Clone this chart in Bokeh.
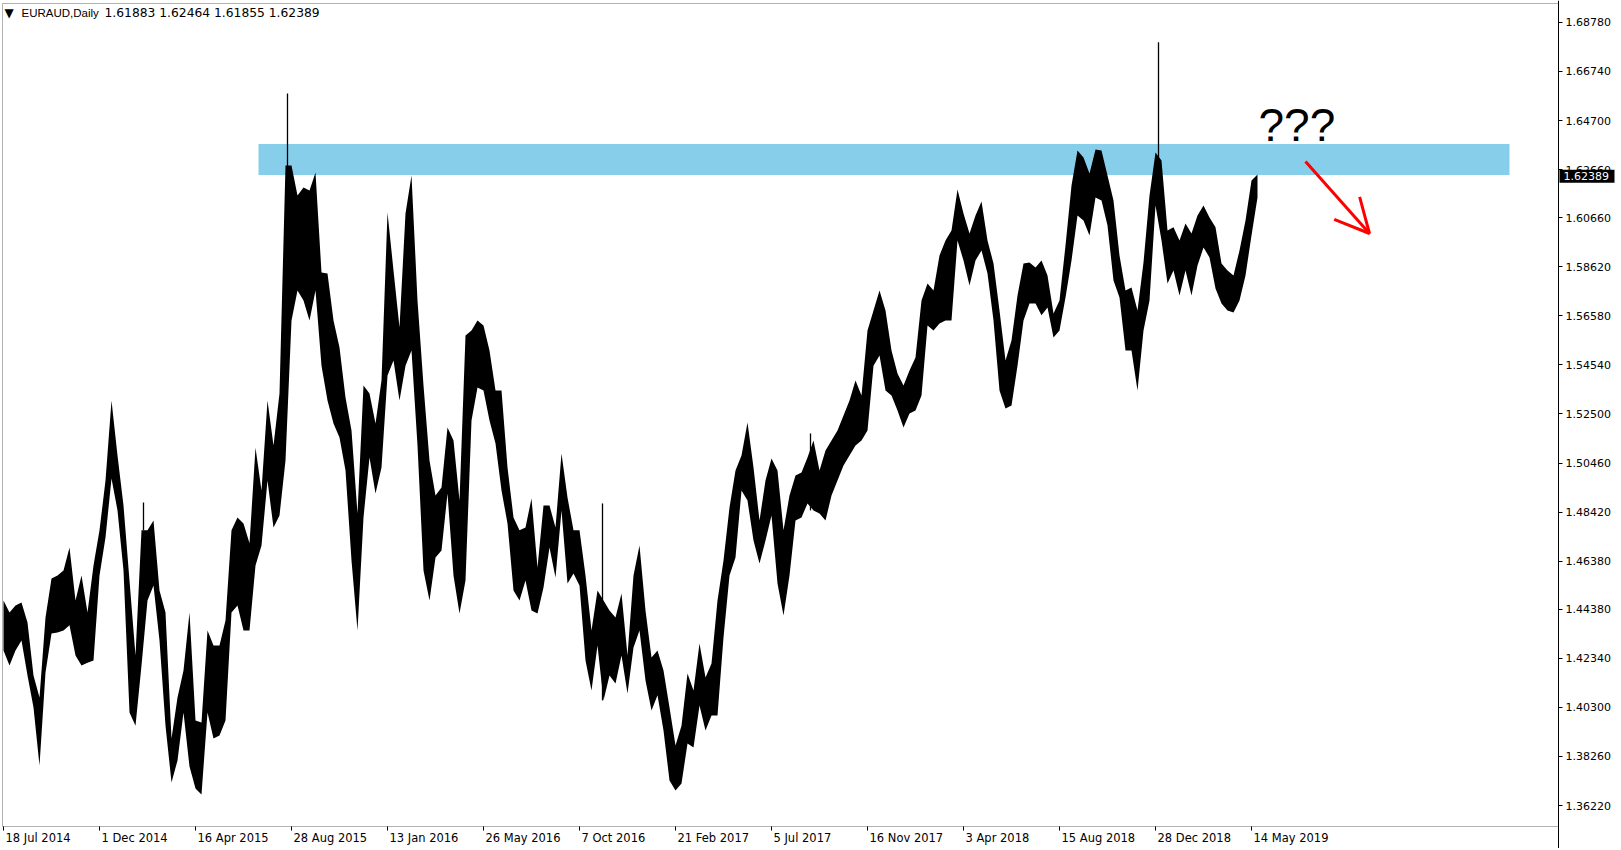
from bokeh.plotting import figure
from bokeh.models import (Range1d, FixedTicker, NumeralTickFormatter, BoxAnnotation,
                          Label, Arrow, OpenHead)
from bokeh.core.properties import value
from bokeh.embed import file_html
from bokeh.resources import INLINE

# ---------------- data ----------------
symbol = "EURAUD,Daily"
last_ohlc = [1.61883, 1.62464, 1.61855, 1.62389]

bars_per_block = 6  # daily bars summarised per block (high / low envelope)
block_high = [
    1.4474, 1.4425, 1.4454, 1.4466, 1.4383, 1.4163, 1.4071, 1.4404, 1.4566, 1.4578,
    1.4599, 1.4695, 1.4474, 1.4578, 1.4425, 1.4620, 1.4766, 1.4973, 1.5306, 1.5077,
    1.4869, 1.4558, 1.4246, 1.4766, 1.4766, 1.4807, 1.4516, 1.4425, 1.3901, 1.4071,
    1.4183, 1.4425, 1.3975, 1.3967, 1.4350, 1.4287, 1.4287, 1.4391, 1.4766, 1.4820,
    1.4795, 1.4712, 1.5110, 1.4932, 1.5306, 1.5119, 1.5335, 1.6283, 1.6283, 1.6158,
    1.6192, 1.6179, 1.6254, 1.5838, 1.5834, 1.5639, 1.5526, 1.5318, 1.5181, 1.4836,
    1.5368, 1.5335, 1.5210, 1.5389, 1.6088, 1.5847, 1.5610, 1.6084, 1.6242, 1.5722,
    1.5368, 1.5057, 1.4911, 1.4944, 1.5194, 1.5140, 1.4890, 1.5576, 1.5597, 1.5639,
    1.5618, 1.5514, 1.5348, 1.5348, 1.5027, 1.4820, 1.4766, 1.4778, 1.4899, 1.4612,
    1.4869, 1.4869, 1.4778, 1.5086, 1.4903, 1.4766, 1.4766, 1.4578, 1.4350, 1.4516,
    1.4474, 1.4433, 1.4404, 1.4503, 1.4246, 1.4578, 1.4703, 1.4433, 1.4237, 1.4267,
    1.4183, 1.4030, 1.3872, 1.3954, 1.4171, 1.4100, 1.4296, 1.4154, 1.4212, 1.4474,
    1.4641, 1.4861, 1.5015, 1.5077, 1.5215, 1.5027, 1.4807, 1.4973, 1.5065, 1.5015,
    1.4766, 1.4911, 1.4994, 1.5007, 1.5069, 1.5140, 1.5015, 1.5098, 1.5140, 1.5181,
    1.5244, 1.5306, 1.5389, 1.5327, 1.5597, 1.5680, 1.5763, 1.5680, 1.5514, 1.5418,
    1.5368, 1.5431, 1.5485, 1.5722, 1.5792, 1.5763, 1.5909, 1.5971, 1.6013, 1.6183,
    1.6084, 1.6000, 1.6075, 1.6133, 1.5971, 1.5876, 1.5680, 1.5472, 1.5555, 1.5743,
    1.5876, 1.5880, 1.5859, 1.5888, 1.5826, 1.5668, 1.5722, 1.5950, 1.6200, 1.6346,
    1.6316, 1.6250, 1.6350, 1.6346, 1.6242, 1.6138, 1.5909, 1.5763, 1.5776, 1.5680,
    1.5880, 1.6158, 1.6337, 1.6304, 1.6013, 1.6026, 1.5971, 1.6042, 1.6000, 1.6075,
    1.6117, 1.6067, 1.6026, 1.5876, 1.5847, 1.5826, 1.5930, 1.6054, 1.6221, 1.6246,
]
block_low = [
    1.4267, 1.4204, 1.4267, 1.4308, 1.4163, 1.4030, 1.3788, 1.4175, 1.4337, 1.4341,
    1.4350, 1.4371, 1.4246, 1.4204, 1.4216, 1.4225, 1.4578, 1.4736, 1.4982, 1.4849,
    1.4599, 1.4009, 1.3954, 1.4204, 1.4474, 1.4537, 1.4308, 1.3954, 1.3718, 1.3809,
    1.4009, 1.3784, 1.3693, 1.3668, 1.4009, 1.3901, 1.3913, 1.3975, 1.4425, 1.4454,
    1.4350, 1.4350, 1.4620, 1.4703, 1.4973, 1.4778, 1.4828, 1.5057, 1.5639, 1.5763,
    1.5722, 1.5639, 1.5763, 1.5451, 1.5306, 1.5210, 1.5152, 1.5015, 1.4641, 1.4350,
    1.4820, 1.5069, 1.4919, 1.5027, 1.5410, 1.5472, 1.5306, 1.5451, 1.5514, 1.5119,
    1.4599, 1.4474, 1.4653, 1.4682, 1.4919, 1.4578, 1.4420, 1.4558, 1.5223, 1.5360,
    1.5348, 1.5223, 1.5127, 1.4932, 1.4795, 1.4516, 1.4474, 1.4558, 1.4433, 1.4420,
    1.4528, 1.4695, 1.4570, 1.4849, 1.4545, 1.4587, 1.4537, 1.4225, 1.4100, 1.4287,
    1.4059, 1.4163, 1.4129, 1.4246, 1.4088, 1.4279, 1.4350, 1.4142, 1.4017, 1.4080,
    1.3934, 1.3726, 1.3684, 1.3713, 1.3880, 1.3863, 1.4038, 1.3934, 1.3996, 1.3996,
    1.4321, 1.4578, 1.4653, 1.4932, 1.4890, 1.4724, 1.4628, 1.4724, 1.4828, 1.4545,
    1.4412, 1.4578, 1.4807, 1.4820, 1.4878, 1.4849, 1.4836, 1.4807, 1.4911, 1.4973,
    1.5036, 1.5077, 1.5119, 1.5140, 1.5181, 1.5451, 1.5493, 1.5348, 1.5327, 1.5264,
    1.5194, 1.5252, 1.5264, 1.5327, 1.5618, 1.5597, 1.5626, 1.5639, 1.5639, 1.5971,
    1.5888, 1.5784, 1.5888, 1.5930, 1.5834, 1.5639, 1.5348, 1.5273, 1.5285, 1.5451,
    1.5639, 1.5709, 1.5709, 1.5660, 1.5693, 1.5568, 1.5597, 1.5734, 1.5888, 1.6075,
    1.6054, 1.5992, 1.6150, 1.6138, 1.6034, 1.5805, 1.5734, 1.5514, 1.5514, 1.5348,
    1.5597, 1.5722, 1.6117, 1.5971, 1.5792, 1.5847, 1.5743, 1.5847, 1.5743, 1.5867,
    1.5942, 1.5901, 1.5772, 1.5709, 1.5680, 1.5672, 1.5722, 1.5826, 1.5992, 1.6150,
]

# single-day wicks that stand out from the envelope
spike_bar = [143, 287, 602, 810, 1158]
spike_high = [1.4882, 1.6583, 1.4878, 1.5169, 1.6796]
spike_low = [1.4766, 1.5580, 1.4059, 1.4849, 1.6250]

# resistance zone
zone_top = 1.63725
zone_bottom = 1.62436
zone_first_bar = 258
zone_last_bar = 1509

date_tick_bars = [3, 99, 195, 291, 387, 483, 579, 675, 771, 867, 963, 1059, 1155, 1251]
date_labels = ["18 Jul 2014", "1 Dec 2014", "16 Apr 2015", "28 Aug 2015", "13 Jan 2016",
               "26 May 2016", "7 Oct 2016", "21 Feb 2017", "5 Jul 2017", "16 Nov 2017",
               "3 Apr 2018", "15 Aug 2018", "28 Dec 2018", "14 May 2019"]
price_ticks = [1.3622, 1.3826, 1.4030, 1.4234, 1.4438, 1.4638, 1.4842, 1.5046, 1.5250,
               1.5454, 1.5658, 1.5862, 1.6066, 1.6266, 1.6470, 1.6674, 1.6878]

# ---------------- layout constants (pixels -> data) ----------------
W, H = 1618, 848
PX_PER_PRICE = 2405.0
Y_TOP = 1.69692                     # price at the top edge of the canvas
def py(pix):                         # canvas pixel row -> price coordinate
    return Y_TOP - pix / PX_PER_PRICE

PLOT_LEFT, PLOT_RIGHT = 2, 1558      # bar-index coordinates of the chart frame
PLOT_TOP, PLOT_BOTTOM = py(3), py(826)

FONT = "DejaVu Sans"
block_x = [bars_per_block * k + bars_per_block / 2 for k in range(len(block_high))]

p = figure(width=W, height=H, x_range=Range1d(0, W), y_range=Range1d(py(H), Y_TOP),
           y_axis_location="right", toolbar_location=None, output_backend="svg",
           min_border=0, min_border_left=0, min_border_right=0, min_border_top=0,
           min_border_bottom=0, background_fill_color="white", border_fill_color="white",
           outline_line_color=None)
p.xgrid.visible = False
p.ygrid.visible = False

# resistance zone (below the price bars)
p.add_layout(BoxAnnotation(left=zone_first_bar, right=zone_last_bar, bottom=zone_bottom,
                           top=zone_top, fill_color="#87CEEB", fill_alpha=1.0,
                           line_alpha=0, level="underlay"))

# price bars
p.varea(x=block_x, y1=block_low, y2=block_high, fill_color="black")
p.segment(x0=spike_bar, y0=spike_low, x1=spike_bar, y1=spike_high,
          line_color="black", line_width=1.3)

# chart frame
p.add_layout(BoxAnnotation(left=PLOT_LEFT, right=PLOT_RIGHT, bottom=PLOT_BOTTOM, top=PLOT_TOP,
                           fill_alpha=0, line_color="black", line_width=1, level="underlay"))

# x axis: tick marks on the frame bottom, labels left-aligned at the ticks
xa = p.xaxis[0]
xa.fixed_location = PLOT_BOTTOM
xa.ticker = FixedTicker(ticks=date_tick_bars)
xa.major_label_text_font_size = "0px"
xa.major_label_text_alpha = 0
xa.major_tick_out = 4
xa.major_tick_in = 0
xa.minor_tick_out = 0
xa.minor_tick_in = 0
xa.axis_line_color = None
xa.major_tick_line_color = "black"
p.text(x=date_tick_bars, y=[py(837)] * len(date_tick_bars), text=date_labels,
       x_offset=2, text_align="left", text_baseline="middle", text_font=value(FONT),
       text_font_size="11.5px", text_color="black")

# y axis on the right edge of the frame
ya = p.yaxis[0]
ya.fixed_location = PLOT_RIGHT
ya.ticker = FixedTicker(ticks=price_ticks)
ya.formatter = NumeralTickFormatter(format="0.00000")
ya.major_label_text_font = FONT
ya.major_label_text_font_size = "11px"
ya.major_label_text_color = "black"
ya.major_tick_out = 4
ya.major_tick_in = 0
ya.minor_tick_out = 0
ya.minor_tick_in = 0
ya.major_label_standoff = 3
ya.axis_line_color = "black"
ya.major_tick_line_color = "black"

# header: marker, symbol/timeframe, last bar O H L C
p.add_layout(Label(x=4, y=py(12), text="\u25BC", text_font=FONT, text_font_size="12px",
                   text_color="black", text_align="left", text_baseline="middle"))
p.add_layout(Label(x=21, y=py(12), text=symbol, text_font="Liberation Sans",
                   text_font_size="11.5px", text_color="black", text_align="left",
                   text_baseline="middle"))
p.add_layout(Label(x=104, y=py(12), text=" ".join(f"{v:.5f}" for v in last_ohlc),
                   text_font=FONT, text_font_size="12.3px", text_color="black",
                   text_align="left", text_baseline="middle"))

# current price tag
tag_half = 6.5 / PX_PER_PRICE
p.add_layout(BoxAnnotation(left=PLOT_RIGHT + 1, right=PLOT_RIGHT + 56,
                           bottom=last_ohlc[3] - tag_half, top=last_ohlc[3] + tag_half,
                           fill_color="black", fill_alpha=1.0, line_alpha=0))
p.add_layout(Label(x=PLOT_RIGHT + 5, y=last_ohlc[3], text=f"{last_ohlc[3]:.5f}", text_font=FONT,
                   text_font_size="11px", text_color="white",
                   text_align="left", text_baseline="middle"))

# annotation: question marks and red arrow
p.add_layout(Label(x=1258, y=py(124.5), text="???", text_font="Liberation Sans",
                   text_font_size="46px", text_color="black", text_align="left",
                   text_baseline="middle"))
p.add_layout(Arrow(x_start=1305, y_start=py(161), x_end=1369, y_end=py(233),
                   line_color="red", line_width=3,
                   end=OpenHead(size=34, line_color="red", line_width=3)))

open("out.html", "w").write(file_html(p, INLINE))
